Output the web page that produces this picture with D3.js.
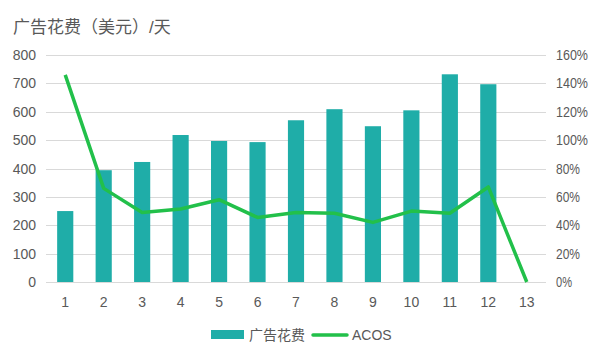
<!DOCTYPE html>
<html><head><meta charset="utf-8">
<script src="https://cdn.jsdelivr.net/npm/d3@7"></script>
<style>body{margin:0;background:#fff;}text{font-family:"Liberation Sans","Noto Sans CJK SC",sans-serif;}</style>
</head><body><svg id="c" width="600" height="360"></svg>
<script>
const categories = ["1","2","3","4","5","6","7","8","9","10","11","12","13"];
const spend = [250, 394, 423, 518, 497, 493, 570, 609, 549, 605, 732, 697, null];
const acos = [146, 66, 49, 51.5, 58, 45.5, 49, 48.5, 42, 50, 48.5, 67, 0];
const leftTicks = [0,100,200,300,400,500,600,700,800];
const rightTicks = [0,20,40,60,80,100,120,140,160];

const svg = d3.select("#c");
const L = 46, R = 546, T = 55, B = 282;
const x = d3.scaleBand().domain(categories).range([L, R]).padding(0);
const yL = d3.scaleLinear().domain([0, 800]).range([B, T]);
const yR = d3.scaleLinear().domain([0, 160]).range([B, T]);
const txt = "#595959";

svg.append("text").attr("x", 13).attr("y", 33).attr("font-size", 17).attr("fill", txt).text("广告花费（美元）/天");

svg.append("g").selectAll("line").data(leftTicks).join("line")
  .attr("x1", L).attr("x2", R).attr("y1", d => Math.round(yL(d)) + 0.5).attr("y2", d => Math.round(yL(d)) + 0.5)
  .attr("stroke", "#d9d9d9").attr("stroke-width", 1);

svg.append("g").selectAll("text").data(leftTicks).join("text")
  .attr("x", 36).attr("y", d => yL(d) + 5).attr("text-anchor", "end").attr("font-size", 14).attr("fill", txt).text(d => d);
svg.append("g").selectAll("text").data(rightTicks).join("text")
  .attr("x", 556).attr("y", d => yR(d) + 5).attr("text-anchor", "start").attr("font-size", 14).attr("fill", txt)
  .attr("textLength", d => String(d).length * 8 + 8).attr("lengthAdjust", "spacingAndGlyphs").text(d => d + "%");

svg.append("g").selectAll("text").data(categories).join("text")
  .attr("x", d => x(d) + x.bandwidth() / 2).attr("y", 307).attr("text-anchor", "middle").attr("font-size", 14).attr("fill", txt).text(d => d);

const bw = x.bandwidth() * 0.42;
svg.append("g").selectAll("rect").data(categories.map((c, i) => ({c, v: spend[i]})).filter(d => d.v != null)).join("rect")
  .attr("x", d => x(d.c) + x.bandwidth() / 2 - bw / 2).attr("width", bw)
  .attr("y", d => yL(d.v)).attr("height", d => yL(0) - yL(d.v)).attr("fill", "#1fada8");

const line = d3.line().x((d, i) => x(categories[i]) + x.bandwidth() / 2).y(d => yR(d));
svg.append("path").datum(acos).attr("d", line).attr("fill", "none").attr("stroke", "#22c04a").attr("stroke-width", 3.5).attr("stroke-linejoin", "round");

const lg = svg.append("g");
lg.append("rect").attr("x", 211).attr("y", 330).attr("width", 33).attr("height", 9).attr("fill", "#1fada8");
lg.append("text").attr("x", 249).attr("y", 340).attr("font-size", 14).attr("fill", txt).text("广告花费");
lg.append("line").attr("x1", 313).attr("x2", 347).attr("y1", 335).attr("y2", 335).attr("stroke", "#22c04a").attr("stroke-width", 3.5).attr("stroke-linecap", "round");
lg.append("text").attr("x", 352).attr("y", 340).attr("font-size", 14).attr("fill", txt).text("ACOS");
</script></body></html>
